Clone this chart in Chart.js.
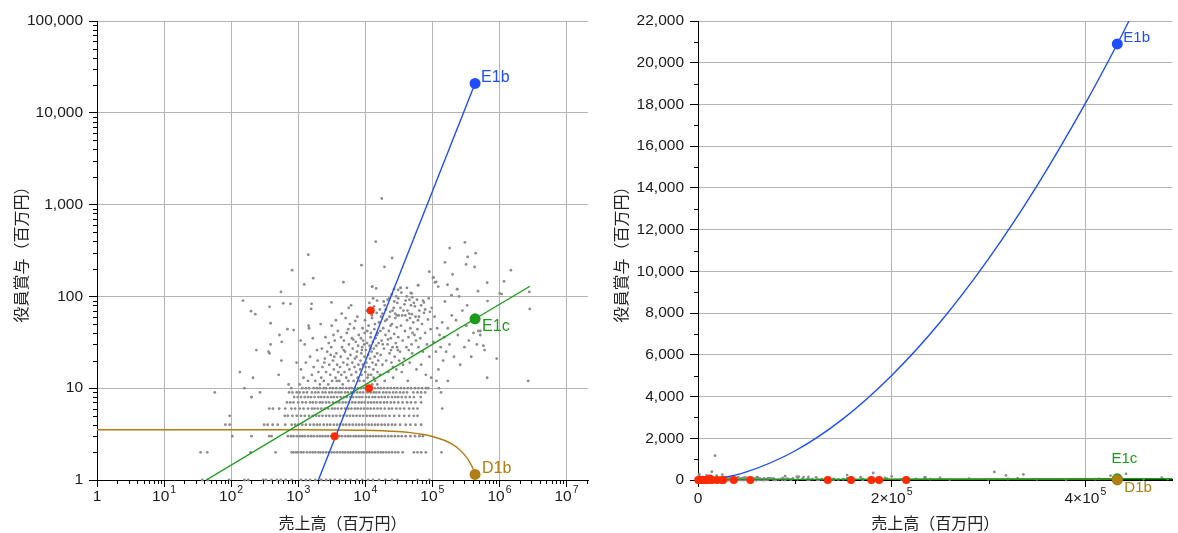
<!DOCTYPE html>
<html>
<head>
<meta charset="utf-8">
<script src="https://cdn.jsdelivr.net/npm/chart.js@4.4.1/dist/chart.umd.min.js"></script>
<style>
  body { margin: 0; background: #fff; }
  #wrap { position: relative; width: 1178px; height: 533px; }
  canvas { position: absolute; top: 0; }
  #leftChart { left: 0; }
  #rightChart { left: 600px; }
</style>
</head>
<body>
<div id="wrap">
  <canvas id="leftChart" width="595" height="533" style="width:595px;height:533px"></canvas>
  <canvas id="rightChart" width="578" height="533" style="width:578px;height:533px"></canvas>
</div>
<script>
// 売上高 (x) と 役員賞与 (y)、単位はどちらも百万円

// 整数の役員賞与 (1〜10) に並ぶ点の行
const rowY = [10, 9, 8, 7, 6, 5, 4, 3, 2, 1];
const rowX = [
  [158, 789, 1150, 1300, 1450, 1700, 1900, 2100, 2400, 2600, 3000, 3300, 3700, 4200, 4600, 5200, 5800, 6300, 7000, 7800, 8600, 9500, 10500, 12500, 13800, 15500, 17000, 19000, 21500, 24000, 27000, 30000, 34000, 38000, 43000, 48000, 55000, 62000, 70000, 80000, 87000, 125000],
  [57, 269, 730, 820, 950, 1050, 1200, 1350, 1600, 1800, 2000, 2300, 2550, 2900, 3200, 3600, 4000, 4400, 5000, 5500, 6200, 6800, 7600, 8400, 9300, 10800, 12000, 13300, 14600, 16200, 18500, 20500, 23000, 26000, 29000, 33000, 37000, 42000, 52000, 60000, 68000, 78000, 135000],
  [201, 870, 980, 1100, 1250, 1400, 1550, 1750, 2000, 2200, 2450, 2750, 3100, 3400, 3800, 4300, 4800, 5300, 6000, 6600, 7400, 8200, 9000, 10200, 11300, 12800, 14000, 15800, 17500, 19500, 22000, 25000, 28000, 31000, 35000, 40000, 46000, 53000, 67000],
  [680, 760, 850, 1000, 1150, 1300, 1500, 1650, 1850, 2100, 2300, 2600, 2900, 3300, 3700, 4100, 4600, 5100, 5700, 6400, 7100, 8000, 8800, 9800, 11000, 12200, 13500, 15000, 16800, 19000, 21000, 24000, 27000, 31000, 36000, 42000, 48000, 56000, 68000],
  [370, 420, 520, 640, 790, 900, 1050, 1200, 1400, 1600, 1750, 1950, 2200, 2500, 2800, 3200, 3500, 3900, 4400, 5000, 5600, 6200, 7000, 7700, 8600, 9600, 10800, 12000, 13500, 15200, 17000, 19500, 22500, 25000, 29000, 33000, 38000, 45000, 52000, 60000, 140000],
  [95, 630, 700, 820, 950, 1100, 1250, 1450, 1650, 1850, 2050, 2300, 2600, 2900, 3300, 3700, 4200, 4700, 5300, 5900, 6600, 7400, 8300, 9300, 10500, 11700, 13000, 14500, 16000, 18000, 20000, 23000, 27000, 32000, 38000, 45000, 53000, 60000],
  [82, 95, 310, 350, 415, 495, 640, 800, 900, 1000, 1150, 1300, 1500, 1700, 1900, 2100, 2400, 2700, 3000, 3400, 3800, 4200, 4700, 5200, 5800, 6500, 7300, 8100, 9000, 10000, 11200, 12500, 14000, 15500, 17500, 19500, 22000, 25000, 28000, 33000, 40000, 47000, 56000, 68000],
  [104, 201, 370, 400, 700, 780, 850, 950, 1050, 1150, 1250, 1400, 1550, 1700, 1900, 2100, 2300, 2550, 2800, 3100, 3400, 3800, 4100, 4500, 5000, 5500, 6000, 6700, 7300, 8000, 8800, 9700, 10700, 11800, 13000, 14300, 15800, 17500, 19500, 22000, 24500, 27500, 31000, 35000, 40000, 47000, 55000, 64000, 72000],
  [35, 44, 195, 460, 800, 850, 930, 1000, 1100, 1200, 1350, 1500, 1650, 1800, 2000, 2150, 2350, 2600, 2850, 3150, 3450, 3800, 4200, 4600, 5000, 5500, 6000, 6600, 7300, 8000, 8800, 9600, 10500, 11500, 12700, 14000, 15400, 17000, 18500, 20500, 22500, 25000, 28000, 31000, 36000, 53000, 60000, 68000, 80000, 137000],
  [37, 45, 93, 158, 180, 300, 330, 400, 480, 550, 650, 800, 1100, 1300, 1500, 1800, 2200, 2600, 3000, 3500, 4200, 5000, 6000, 7500, 9000, 11000, 13000, 16000, 20000, 25000, 30000, 60000, 90000]
];

// 10 を超える点 [売上高, 役員賞与]
const grayPts = [
  [17600, 1166], [14300, 395], [306000, 388], [1410, 285], [181000, 336], [25100, 262], [442000, 296],
  [336000, 269], [8770, 219], [154000, 235], [318000, 223], [19300, 210], [426000, 209], [811, 193],
  [1480000, 193], [90000, 186], [200000, 174], [1670, 158], [104000, 161], [114000, 144], [1170000, 146],
  [656000, 141], [4720, 143], [1230, 135], [61500, 133], [12700, 127], [235000, 120], [33600, 124],
  [2790000, 112], [1010000, 108], [1080000, 106], [553, 112], [479000, 114], [49100, 108], [193000, 103],
  [150, 90], [598, 84], [769, 83], [665000, 89], [1580, 83], [3140, 86], [2830000, 73], [74900, 86],
  [154000, 88], [373, 77], [1560, 73], [198, 69], [229, 64], [388, 51], [414000, 58], [485000, 42],
  [517000, 38], [575000, 29], [910000, 21], [656000, 13], [2680000, 12], [692, 44], [853, 43], [568, 32],
  [238, 26], [373, 24], [561, 20], [135, 15], [212, 13], [511, 14], [201, 8], [387, 30], [525, 38],
  [361, 25], [946, 19], [719, 11], [1087, 33], [1430, 48], [2160, 50], [33700, 124], [41700, 124],
  [61200, 132], [47600, 109], [50100, 98], [102000, 159], [109000, 142], [122000, 128], [168000, 134],
  [234000, 120], [30900, 118], [12600, 128], [14500, 122],
  [1050, 11], [1200, 13], [1100, 16], [1400, 12], [1300, 19], [1600, 14], [1500, 22], [1800, 12],
  [1700, 17], [1900, 26], [1250, 30], [1650, 35], [2000, 15], [1950, 20], [1450, 45],
  [2100, 11], [2200, 13], [2300, 17], [2400, 12], [2500, 21], [2600, 15], [2700, 25], [2800, 11],
  [2900, 18], [3000, 14], [3100, 28], [3200, 12], [3300, 20], [3400, 16], [3500, 33], [3600, 13],
  [3700, 24], [3800, 18], [3900, 42], [2250, 27], [2550, 36], [2850, 31], [3150, 48], [3450, 22],
  [3750, 12], [3950, 15], [2450, 19], [3050, 23], [3350, 38], [3650, 55],
  [4100, 12], [4200, 17], [4300, 22], [4400, 14], [4500, 28], [4600, 11], [4700, 19], [4800, 33],
  [4900, 15], [5000, 25], [5200, 13], [5300, 40], [5400, 18], [5500, 21], [5600, 12], [5700, 30],
  [5800, 16], [5900, 50], [6000, 23], [6200, 14], [6300, 35], [6400, 19], [6500, 27], [6700, 12],
  [6800, 45], [6900, 17], [7000, 21], [7200, 32], [7300, 15], [7500, 25], [7600, 60], [7700, 13],
  [7900, 18], [8000, 38], [4450, 65], [5100, 58], [5650, 75], [6150, 80], [7100, 54], [7800, 29],
  [4350, 36], [4750, 26], [5550, 44], [6600, 34], [7400, 22],
  [8200, 12], [8400, 16], [8500, 20], [8700, 24], [8800, 14], [9000, 28], [9200, 18], [9300, 33],
  [9500, 12], [9700, 22], [9800, 40], [10000, 15], [10200, 26], [10400, 19], [10600, 31], [10800, 13],
  [11000, 23], [11200, 48], [11400, 17], [11600, 29], [11800, 21], [12000, 36], [12200, 14], [12400, 25],
  [12600, 58], [12800, 19], [13000, 32], [13200, 16], [13400, 27], [13600, 44], [13800, 22], [14000, 12],
  [14200, 35], [14400, 18], [14600, 29], [14800, 66], [15000, 24], [15200, 15], [15400, 40], [15600, 20],
  [15800, 31], [16000, 52], [8600, 35], [9100, 45], [9900, 55], [10500, 70], [11500, 85], [12100, 40],
  [13100, 95], [13900, 50], [14900, 38], [8900, 26], [10100, 17], [11100, 14], [12700, 11], [13300, 13],
  [15100, 11], [9600, 30], [10700, 42], [11900, 27],
  [16500, 14], [17000, 23], [17500, 33], [18000, 18], [18500, 45], [19000, 27], [19500, 12], [20000, 38],
  [20500, 20], [21000, 56], [21500, 30], [22000, 15], [22500, 42], [23000, 24], [23500, 68], [24000, 35],
  [24500, 19], [25000, 50], [25500, 28], [26000, 13], [26500, 75], [27000, 39], [27500, 22], [28000, 58],
  [28500, 31], [29000, 16], [29500, 46], [30000, 85], [30500, 26], [31000, 36], [31500, 62], [32000, 20],
  [17200, 60], [18800, 88], [20200, 72], [22800, 95], [24800, 105], [26800, 120], [28800, 100], [16800, 42],
  [19800, 54], [23800, 48], [27800, 65], [21800, 34], [25800, 17], [29800, 28], [18200, 30], [24200, 26],
  [33000, 25], [34000, 48], [35000, 15], [36000, 33], [37000, 70], [38000, 21], [39000, 42], [40000, 90],
  [41000, 28], [42000, 55], [43000, 12], [44000, 36], [45000, 65], [46000, 19], [47000, 45], [48000, 80],
  [49000, 30], [50000, 24], [52000, 52], [54000, 38], [56000, 60], [58000, 16], [60000, 44], [62000, 28],
  [64000, 70], [34500, 110], [41500, 100], [46500, 58], [53000, 85], [57000, 33], [61000, 55], [36500, 18],
  [44500, 26], [50500, 40], [39500, 62],
  [66000, 35], [68000, 18], [70000, 50], [72000, 25], [75000, 66], [78000, 40], [80000, 14], [83000, 30],
  [86000, 56], [90000, 22], [94000, 44], [98000, 75], [103000, 32], [108000, 60], [113000, 25], [118000, 45],
  [123000, 16], [128000, 38], [133000, 28], [140000, 52], [145000, 20], [150000, 36], [115000, 12], [96000, 13],
  [72500, 90],
  [160000, 25], [170000, 45], [180000, 30], [195000, 62], [210000, 22], [225000, 55], [240000, 38], [260000, 18],
  [280000, 70], [300000, 28], [320000, 48], [350000, 33], [380000, 22], [410000, 40], [460000, 30], [520000, 42],
  [600000, 26], [170000, 12], [250000, 100], [330000, 80],
  [12500, 62], [13500, 78], [15000, 90], [16500, 72], [18000, 65], [19500, 80], [21500, 92], [23000, 60],
  [25500, 70], [27000, 88], [29500, 62], [31000, 95], [33500, 75], [35500, 62], [38500, 82], [42500, 70],
  [45500, 92], [49500, 64], [55000, 78], [59000, 92], [63000, 60], [68000, 80], [78000, 72], [88000, 95],
  [92000, 68]
];

// 赤い点
const redX = [300, 1500, 2500, 3490, 5500, 7500, 9000, 11350, 12050, 14300, 19400, 24500, 26000, 37000, 54000, 134000, 158000, 179000, 187000, 215000];
const redY = [0, 0, 0, 3, 0, 0, 0, 10, 70, 0, 0, 0, 0, 0, 0, 0, 0, 0, 0, 0];

// 回帰曲線 (図から読んだ点)
const blueX = [2000, 25000, 50000, 100000, 150000, 200000, 250000, 300000, 350000, 400000, 433000, 445000];
const blueY = [1, 107, 386, 1390, 2940, 5010, 7560, 10600, 14100, 18050, 20900, 22000];
const greenX = [42.5, 20000, 100000, 250000, 433000, 490000, 2840000];
const greenY = [1, 14.8, 30, 45, 57, 60, 129];
const brownX = [1, 100, 1000, 10000, 30000, 50000, 70000, 100000, 150000, 200000, 250000, 300000, 350000, 400000, 420000, 433000];
const brownY = [3.53, 3.53, 3.53, 3.48, 3.37, 3.26, 3.15, 2.98, 2.71, 2.44, 2.16, 1.89, 1.62, 1.35, 1.23, 1.15];

// 名前付きの点
const markerNames = ['E1b', 'E1c', 'D1b'];
const markerX = [433000, 433000, 433000];
const markerY = [20900, 57, 1.15];

// 目盛り
const leftXTicks = [1, 10, 100, 1000, 10000, 100000, 1000000, 10000000];
const leftXLabels = [['1', ''], ['10', '1'], ['10', '2'], ['10', '3'], ['10', '4'], ['10', '5'], ['10', '6'], ['10', '7']];
const leftYTicks = [1, 10, 100, 1000, 10000, 100000];
const minorMult = [2, 3, 4, 5, 6, 7, 8, 9];
const rightXTicks = [0, 200000, 400000];
const rightXLabels = [['0', ''], ['2×10', '5'], ['4×10', '5']];
const rightXMinor = [100000, 300000];
const rightYTicks = [0, 2000, 4000, 6000, 8000, 10000, 12000, 14000, 16000, 18000, 20000, 22000];
const rightYMinor = [1000, 3000, 5000, 7000, 9000, 11000, 13000, 15000, 17000, 19000, 21000];

const BLUE = '#1f4dff', GREEN = '#1a9c1a', BROWN = '#b07e12', RED = '#ff2a00', GRAY = '#8c8c8c';
const markerColors = [BLUE, GREEN, BROWN];
const TICKFONT = '"Liberation Sans", Arial, sans-serif';
const JPFONT = '"Noto Sans CJK JP", sans-serif';

function pts(xs, ys) {
  return xs.map((x, i) => ({x: x, y: ys[i]}));
}

const grayData = [];
rowY.forEach((y, i) => rowX[i].forEach(x => grayData.push({x: x, y: y})));
grayPts.forEach(p => grayData.push({x: p[0], y: p[1]}));

function logMinor(maxExp, limit) {
  const out = [];
  for (let d = 0; d <= maxExp; d++) {
    minorMult.forEach(m => {
      const v = m * Math.pow(10, d);
      if (v <= limit) out.push(v);
    });
  }
  return out;
}

// 補助目盛り・x軸ラベル (上付き)・点の名前
const decor = {
  id: 'decor',
  afterDraw(chart, args, o) {
    const ctx = chart.ctx, xs = chart.scales.x, ys = chart.scales.y;
    ctx.save();
    ctx.strokeStyle = '#000';
    ctx.lineWidth = 1;
    o.xMinor.forEach(v => {
      if (v < xs.min || v > xs.max) return;
      const px = Math.round(xs.getPixelForValue(v)) + 0.5;
      ctx.beginPath();
      ctx.moveTo(px, ys.bottom);
      ctx.lineTo(px, ys.bottom + 4);
      ctx.stroke();
    });
    o.yMinor.forEach(v => {
      if (v < ys.min || v > ys.max) return;
      const py = Math.round(ys.getPixelForValue(v)) + 0.5;
      ctx.beginPath();
      ctx.moveTo(xs.left - 4, py);
      ctx.lineTo(xs.left, py);
      ctx.stroke();
    });

    ctx.fillStyle = '#1a1a1a';
    ctx.textBaseline = 'middle';
    ctx.textAlign = 'left';
    o.xLabels.forEach((lab, i) => {
      const px = xs.getPixelForValue(o.xTicks[i]);
      ctx.font = '15.5px ' + TICKFONT;
      const w1 = ctx.measureText(lab[0]).width;
      ctx.font = '10.5px ' + TICKFONT;
      const w2 = lab[1] ? ctx.measureText(lab[1]).width + 1 : 0;
      const x0 = px - (w1 + w2) / 2;
      ctx.font = '15.5px ' + TICKFONT;
      ctx.fillText(lab[0], x0, o.labelY);
      if (lab[1]) {
        ctx.font = '10.5px ' + TICKFONT;
        ctx.fillText(lab[1], x0 + w1 + 1, o.labelY - 7);
      }
    });

    o.marks.forEach(m => {
      const px = xs.getPixelForValue(markerX[m.i]);
      const py = ys.getPixelForValue(markerY[m.i]);
      ctx.fillStyle = markerColors[m.i];
      ctx.textAlign = m.align;
      ctx.font = o.markFont + 'px ' + TICKFONT;
      ctx.fillText(markerNames[m.i], px + m.dx, py + m.dy);
    });
    ctx.restore();
  }
};

function makeDatasets(logY) {
  const red = pts(redX, redY).filter(p => !logY || p.y > 0);
  return [
    {data: pts(markerX, markerY), pointRadius: 5.5, pointBackgroundColor: markerColors,
     pointBorderWidth: 0, showLine: false, order: 0, clip: false},
    {data: red, pointRadius: 4, pointBackgroundColor: RED, pointBorderWidth: 0,
     showLine: false, order: 1, clip: false},
    {data: pts(blueX, blueY), showLine: true, borderColor: BLUE, borderWidth: 1.4,
     pointRadius: 0, cubicInterpolationMode: 'monotone', order: 2},
    {data: pts(greenX, greenY), showLine: true, borderColor: GREEN, borderWidth: 1.4,
     pointRadius: 0, order: 3},
    {data: pts(brownX, brownY), showLine: true, borderColor: BROWN, borderWidth: 1.4,
     pointRadius: 0, cubicInterpolationMode: 'monotone', order: 4},
    {data: grayData, pointRadius: 1.4, pointBackgroundColor: GRAY, pointBorderWidth: 0,
     showLine: false, order: 5, clip: false}
  ];
}

const gridOpts = {color: '#b4b4b4', lineWidth: 1, tickColor: '#000', tickLength: 7};

new Chart(document.getElementById('leftChart'), {
  type: 'scatter',
  data: {datasets: makeDatasets(true)},
  options: {
    responsive: false,
    animation: false,
    devicePixelRatio: 1,
    layout: {padding: {top: 21, right: 7, left: 0, bottom: 0}},
    plugins: {
      legend: {display: false},
      tooltip: {enabled: false},
      decor: {
        xMinor: logMinor(7, 2.09e7),
        yMinor: logMinor(4, 1e5),
        xTicks: leftXTicks,
        xLabels: leftXLabels,
        labelY: 497,
        markFont: 16,
        marks: [
          {i: 0, dx: 6, dy: -6, align: 'left'},
          {i: 1, dx: 7, dy: 8, align: 'left'},
          {i: 2, dx: 7, dy: -6, align: 'left'}
        ]
      }
    },
    scales: {
      x: {
        type: 'logarithmic', min: 1, max: 2.09e7,
        afterBuildTicks: s => { s.ticks = leftXTicks.map(v => ({value: v})); },
        afterFit: s => { s.height = 53; },
        ticks: {display: false},
        grid: gridOpts,
        border: {color: '#000', width: 1},
        title: {display: true, text: '売上高（百万円）', color: '#222',
                font: {family: JPFONT, size: 16, lineHeight: 1.2}, padding: {top: 0, bottom: 0}}
      },
      y: {
        type: 'logarithmic', min: 1, max: 100000,
        afterBuildTicks: s => { s.ticks = leftYTicks.map(v => ({value: v})); },
        afterFit: s => { s.width = 97; },
        ticks: {callback: v => Number(v).toLocaleString('en-US'), color: '#1a1a1a',
                font: {family: TICKFONT, size: 15.5}, padding: 6},
        grid: {color: '#b4b4b4', lineWidth: 1, tickColor: '#000', tickLength: 8},
        border: {color: '#000', width: 1},
        title: {display: true, text: '役員賞与（百万円）', color: '#222',
                font: {family: JPFONT, size: 16, lineHeight: 1.2}, padding: {top: 11, bottom: 0}}
      }
    }
  },
  plugins: [decor]
});

new Chart(document.getElementById('rightChart'), {
  type: 'scatter',
  data: {datasets: makeDatasets(false)},
  options: {
    responsive: false,
    animation: false,
    devicePixelRatio: 1,
    layout: {padding: {top: 21, right: 0, left: 0, bottom: 0}},
    plugins: {
      legend: {display: false},
      tooltip: {enabled: false},
      decor: {
        xMinor: rightXMinor,
        yMinor: rightYMinor,
        xTicks: rightXTicks,
        xLabels: rightXLabels,
        labelY: 499,
        markFont: 15,
        marks: [
          {i: 0, dx: 6, dy: -6, align: 'left'},
          {i: 1, dx: 7, dy: -20, align: 'center'},
          {i: 2, dx: 7, dy: 8, align: 'left'}
        ]
      }
    },
    scales: {
      x: {
        type: 'linear', min: 0, max: 490000,
        afterBuildTicks: s => { s.ticks = rightXTicks.map(v => ({value: v})); },
        afterFit: s => { s.height = 53; },
        ticks: {display: false},
        grid: gridOpts,
        border: {color: '#000', width: 2},
        title: {display: true, text: '売上高（百万円）', color: '#222',
                font: {family: JPFONT, size: 16, lineHeight: 1.2}, padding: {top: 0, bottom: 0}}
      },
      y: {
        type: 'linear', min: 0, max: 22000,
        afterBuildTicks: s => { s.ticks = rightYTicks.map(v => ({value: v})); },
        afterFit: s => { s.width = 98; },
        ticks: {callback: v => Number(v).toLocaleString('en-US'), color: '#1a1a1a',
                font: {family: TICKFONT, size: 15.5}, padding: 6},
        grid: {color: '#b4b4b4', lineWidth: 1, tickColor: '#000', tickLength: 8},
        border: {color: '#000', width: 1},
        title: {display: true, text: '役員賞与（百万円）', color: '#222',
                font: {family: JPFONT, size: 16, lineHeight: 1.2}, padding: {top: 11, bottom: 0}}
      }
    }
  },
  plugins: [decor]
});
</script>
</body>
</html>
